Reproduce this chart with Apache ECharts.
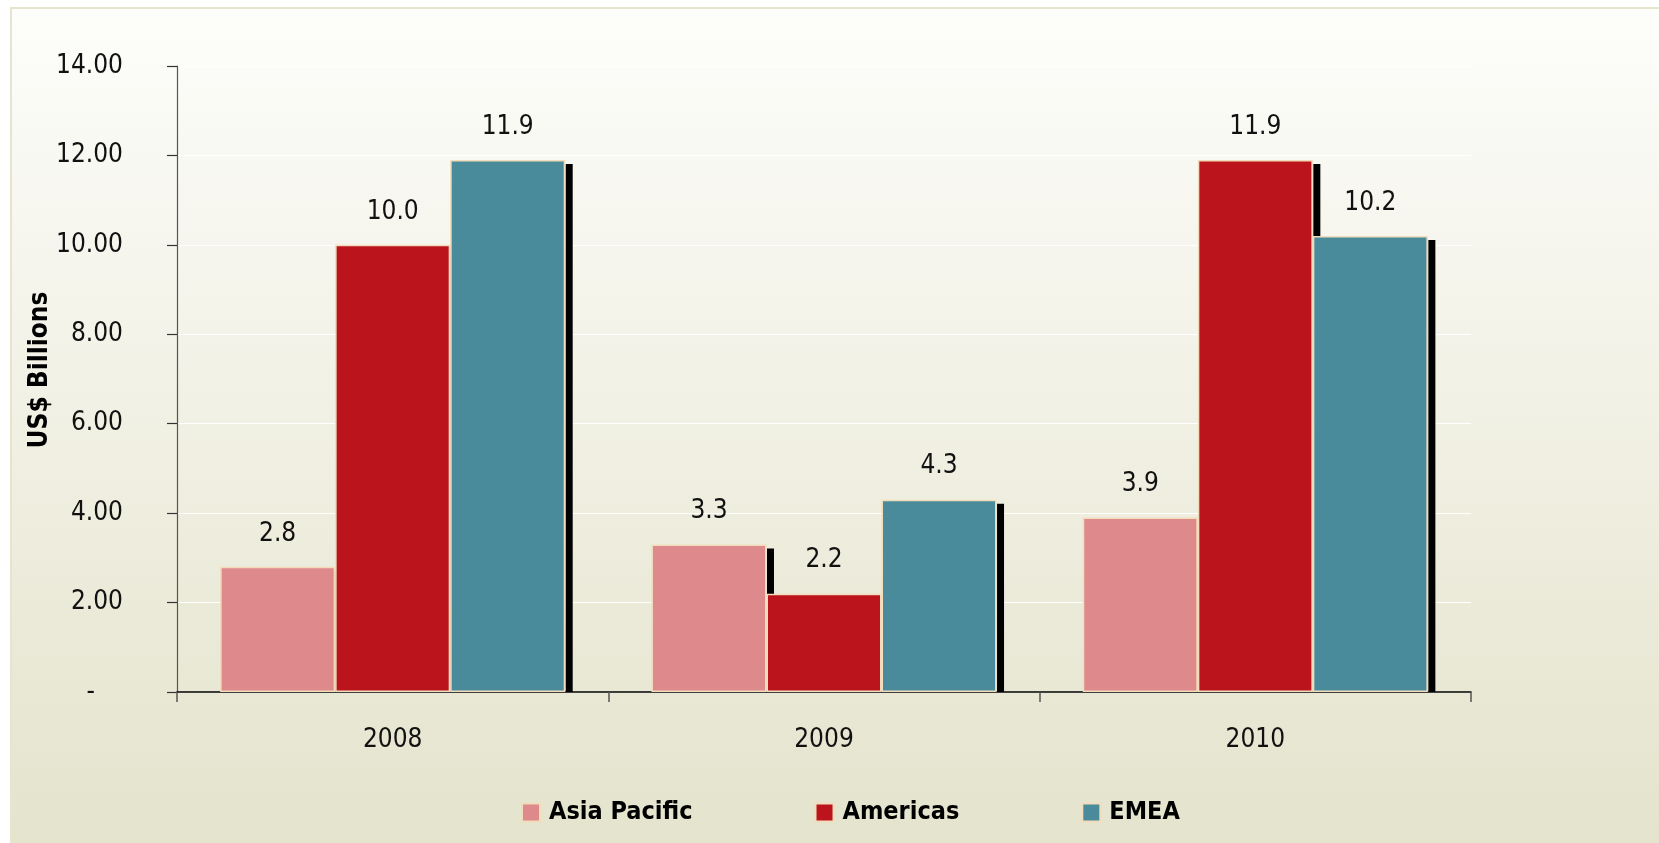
<!DOCTYPE html>
<html>
<head>
<meta charset="utf-8">
<title>Regional revenue 2008-2010</title>
<script src="https://cdn.jsdelivr.net/npm/echarts@6/dist/echarts.min.js"></script>
<style>
  html, body { margin: 0; padding: 0; background: #ffffff; }
  #chart { width: 1659px; height: 843px; }
</style>
</head>
<body>
<div id="chart"></div>
<script>
// Categories and series values (US$ billions)
const years = ['2008', '2009', '2010'];
const seriesNames = ['Asia Pacific', 'Americas', 'EMEA'];
const asiaPacific = [2.8, 3.3, 3.9];
const americas = [10.0, 2.2, 11.9];
const emea = [11.9, 4.3, 10.2];
const yTicks = [0, 2, 4, 6, 8, 10, 12, 14];

const seriesValues = [asiaPacific, americas, emea];
const colors = ['#de898b', '#bb141d', '#4a8b9b'];
const FONT = "'Liberation Sans Narrow', 'Arial Narrow', 'DejaVu Sans Condensed', sans-serif";
const NUM_SIZE = 26;
const BAR_CAT_GAP = 0.2;

// Points for the drop shadows: [category index, value, series index]
const shadowData = [];
seriesValues.forEach((vals, s) => vals.forEach((v, c) => shadowData.push([c, v, s])));

const chart = echarts.init(document.getElementById('chart'));

const barSeries = seriesNames.map((name, s) => ({
  name: name,
  type: 'bar',
  data: seriesValues[s],
  barGap: '0%',
  barCategoryGap: (BAR_CAT_GAP * 100) + '%',
  z: 3,
  itemStyle: { color: colors[s], borderColor: '#f1dcbc', borderWidth: 1.5 },
  label: {
    show: true,
    position: 'top',
    distance: 20,
    fontFamily: FONT,
    fontSize: NUM_SIZE,
    color: '#111111',
    formatter: p => p.value.toFixed(1)
  },
  emphasis: { disabled: true }
}));

// Solid black shadow strip along the right edge of each bar, under all bars
const shadowSeries = {
  type: 'custom',
  coordinateSystem: 'cartesian2d',
  data: shadowData,
  encode: { x: 0, y: 1 },
  z: 2,
  silent: true,
  renderItem: function (params, api) {
    const cat = api.value(0);
    const val = api.value(1);
    const s = api.value(2);
    const top = api.coord([cat, val]);
    const base = api.coord([cat, 0]);
    const catW = api.size([1, 0])[0];
    const barW = catW * (1 - BAR_CAT_GAP) / seriesNames.length;
    const groupLeft = top[0] - catW * (1 - BAR_CAT_GAP) / 2;
    const x = groupLeft + (s + 1) * barW + 0.5;
    const y = top[1] + 4;
    return {
      type: 'rect',
      shape: { x: x, y: y, width: 7, height: base[1] - y },
      style: { fill: '#000000' }
    };
  }
};

chart.setOption({
  animation: false,
  backgroundColor: '#ffffff',
  graphic: [{
    type: 'rect',
    z: -10,
    silent: true,
    shape: { x: 11, y: 8, width: 1660, height: 840 },
    style: {
      fill: new echarts.graphic.LinearGradient(0, 0, 0, 1, [
        { offset: 0, color: '#fdfdfb' },
        { offset: 1, color: '#e4e3cc' }
      ]),
      stroke: '#e6e4cc',
      lineWidth: 2
    }
  }],
  grid: { left: 177, right: 188, top: 66, bottom: 151, containLabel: false },
  legend: {
    data: seriesNames,
    left: 521,
    top: 800,
    padding: 0,
    itemWidth: 18,
    itemHeight: 18,
    itemGap: 122,
    icon: 'rect',
    selectedMode: false,
    textStyle: {
      fontFamily: FONT,
      fontSize: 25,
      fontWeight: 'bold',
      color: '#000000',
      padding: [0, 0, 0, 4]
    }
  },
  xAxis: {
    type: 'category',
    data: years,
    axisLine: { lineStyle: { color: '#000000', width: 1.5 } },
    axisTick: { show: true, length: 10, lineStyle: { color: '#555555', width: 1.5 } },
    axisLabel: { fontFamily: FONT, fontSize: NUM_SIZE, color: '#111111', margin: 35 },
    splitLine: { show: false }
  },
  yAxis: {
    type: 'value',
    min: yTicks[0],
    max: yTicks[yTicks.length - 1],
    interval: yTicks[1] - yTicks[0],
    name: 'US$ Billions',
    nameLocation: 'middle',
    nameRotate: 90,
    nameGap: 124,
    nameMoveOverlap: false,
    nameTextStyle: {
      fontFamily: FONT,
      fontSize: 26,
      fontWeight: 'bold',
      color: '#000000',
      padding: [0, 0, 0, 18]
    },
    axisLine: { show: true, lineStyle: { color: '#555555', width: 1.2 } },
    axisTick: { show: true, length: 10, lineStyle: { color: '#333333', width: 1.2 } },
    axisLabel: {
      fontFamily: FONT,
      fontSize: NUM_SIZE,
      color: '#111111',
      margin: 54,
      formatter: v => v === 0 ? '{d|-}' : v.toFixed(2),
      rich: { d: { fontFamily: FONT, fontSize: NUM_SIZE, color: '#111111', padding: [0, 28, 0, 0] } }
    },
    splitLine: { show: true, lineStyle: { color: '#ffffff', width: 1.2 } }
  },
  series: [shadowSeries].concat(barSeries)
});
</script>
</body>
</html>
